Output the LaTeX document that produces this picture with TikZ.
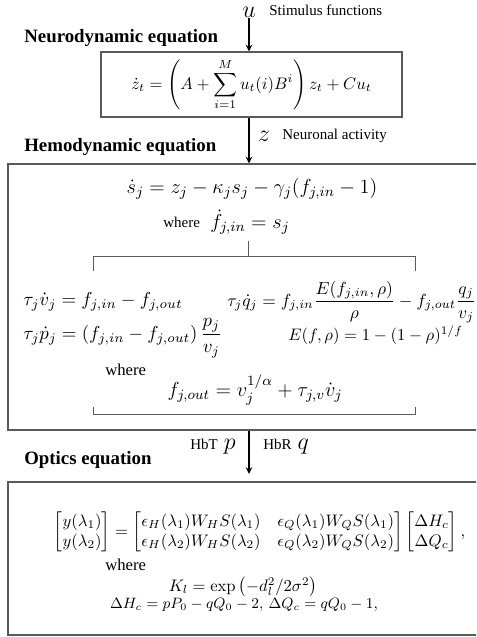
\RequirePackage{fix-cm}
\documentclass[tikz,border=0pt]{standalone}
\usepackage{amsmath}
\usepackage[no-math]{fontspec}
\setmainfont{Liberation Serif}
\usepackage{xcolor}
\usepackage{tikz}
\usetikzlibrary{arrows, positioning}

\definecolor{edgegray}{HTML}{5A5A5A}
\newcommand{\fsz}[1]{\fontsize{#1}{1.2\dimexpr#1pt\relax}\selectfont}

\begin{document}
\begin{tikzpicture}[x=0.6pt, y=-0.6pt]
				% Styles
				\tikzstyle{title} = [anchor=west, inner sep=0pt, font=\fsz{11.3}\bfseries]
				\tikzstyle{lbl} = [anchor=west, inner sep=0pt, font=\small]
				\tikzstyle{var} = [inner sep=0pt, font=\Large]
				\tikzstyle{eq} = [inner sep=0pt]
				\tikzstyle{bigeq} = [inner sep=0pt, font=\fsz{12.2}]
				\tikzstyle{mideq} = [inner sep=0pt, font=\fsz{11.3}]
				\tikzstyle{eqbox} = [draw=edgegray, line width=0.7pt, rectangle, align=center]
				\tikzstyle{bracket} = [draw=edgegray, line width=0.6pt]
				\tikzstyle{arrow} = [thick,->,>=stealth]

				\path[use as bounding box, clip] (0,0) rectangle (476,637);

				% Nodes
				\node (u) [var] at (249,12) {$u$};
				\node (stim) [lbl] at (269,10) {Stimulus functions};
				\node (neurotitle) [title] at (24,38) {Neurodynamic equation};
				\node (neurobox) [eqbox, minimum width=180.6pt, minimum height=39pt] at (251.5,84.5)
					{$\displaystyle \dot z_t = \left(A + \sum_{i=1}^{M} u_t(i)B^i\right) z_t + Cu_t$};

				\node (z) [var] at (264,136) {$z$};
				\node (neuronal) [lbl] at (282,136) {Neuronal activity};
				\node (hemotitle) [title] at (24,147) {Hemodynamic equation};
				\node (hemobox) [eqbox, minimum width=288pt, minimum height=159.6pt] at (248,297) {};

				\node (seq) [bigeq] at (252,189) {$\dot s_j = z_j - \kappa_j s_j - \gamma_j(f_{j,in} - 1)$};
				\node (fwhere) [lbl] at (163,222) {where};
				\node (fin) [bigeq, anchor=west] at (210,222) {$\dot f_{j,in} = s_j$};
				\node (veq) [mideq, anchor=west] at (23,302) {$\tau_j \dot v_j = f_{j,in} - f_{j,out}$};
				\node (qeq) [eq, font=\fsz{10.5}, anchor=west] at (227,302)
					{$\displaystyle \tau_j \dot q_j = f_{j,in}\frac{E(f_{j,in},\rho)}{\rho} - f_{j,out}\frac{q_j}{v_j}$};
				\node (peq) [mideq, anchor=west] at (23,338)
					{$\displaystyle \tau_j \dot p_j = (f_{j,in} - f_{j,out})\,\frac{p_j}{v_j}$};
				\node (Eeq) [eq, anchor=west] at (288,335) {$E(f,\rho) = 1 - (1-\rho)^{1/f}$};
				\node (where2) [eq, anchor=west] at (105,370) {where};
				\node (fout) [bigeq] at (255,390) {$f_{j,out} = v_j^{1/\alpha} + \tau_{j,v}\dot v_j$};

				\node (hbt) [var, anchor=east] at (236,447) {{\small HbT}~$p$};
				\node (hbr) [var, anchor=west] at (263,447) {{\small HbR}~$q$};
				\node (optictitle) [title] at (24,460) {Optics equation};
				\node (opticbox) [eqbox, minimum width=288pt, minimum height=91.8pt] at (248,558.5) {};

				\node (meq) [eq] at (259.5,532)
					{$\begin{bmatrix} y(\lambda_1)\\ y(\lambda_2)\end{bmatrix} =
					\begin{bmatrix} \epsilon_H(\lambda_1)W_H S(\lambda_1) & \epsilon_Q(\lambda_1)W_Q S(\lambda_1)\\
					\epsilon_H(\lambda_2)W_H S(\lambda_2) & \epsilon_Q(\lambda_2)W_Q S(\lambda_2)\end{bmatrix}
					\begin{bmatrix} \Delta H_c\\ \Delta Q_c\end{bmatrix},$};
				\node (where3) [eq, anchor=west] at (105,565) {where};
				\node (kl) [eq] at (243,587) {$K_l = \exp\left(-d_l^2/2\sigma^2\right)$};
				\node (dh) [eq, font=\fsz{9}] at (244,605) {$\Delta H_c = pP_0 - qQ_0 - 2,\, \Delta Q_c = qQ_0 - 1,$};

				% Brackets
				\draw [bracket] (248,241) -- (248,256);
				\draw [bracket] (93,271) -- (93,256) -- (415,256) -- (415,271);
				\draw [bracket] (93,407) -- (93,414) -- (415,414) -- (415,407);

				% Connections
				\draw [arrow] (u) -- (u |- neurobox.north);
				\draw [arrow] (neurobox.south -| u) -- (hemobox.north -| u);
				\draw [arrow, shorten >=4.5pt] (hemobox.south -| u) -- (opticbox.north -| u);

			\end{tikzpicture}
\end{document}
